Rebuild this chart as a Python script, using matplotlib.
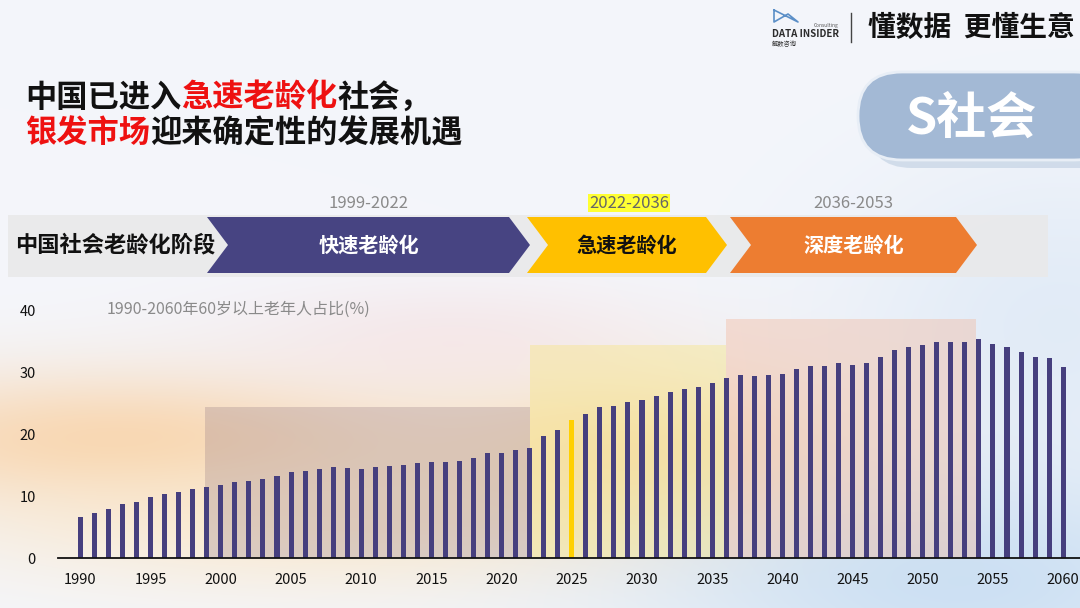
import numpy as np
import matplotlib.pyplot as plt
from matplotlib.patches import Polygon, FancyBboxPatch, Rectangle

plt.rcParams['font.family'] = ['Noto Sans CJK SC', 'DejaVu Sans']

# data: share of people aged 60+ (%)
years = list(range(1990, 2061))
share_60plus = [6.6, 7.3, 7.9, 8.7, 9.1, 9.8, 10.4, 10.7, 11.1, 11.5,
                11.8, 12.2, 12.4, 12.7, 13.2, 13.8, 14.0, 14.3, 14.6, 14.5,
                14.4, 14.6, 14.8, 15.0, 15.4, 15.5, 15.5, 15.7, 16.1, 16.9,
                16.9, 17.5, 17.7, 19.6, 20.6, 22.2, 23.3, 24.3, 24.5, 25.1,
                25.5, 26.1, 26.7, 27.2, 27.6, 28.3, 29.0, 29.5, 29.3, 29.5,
                29.7, 30.5, 31.0, 31.0, 31.5, 31.2, 31.5, 32.4, 33.5, 34.0,
                34.3, 34.8, 34.8, 34.9, 35.3, 34.5, 34.0, 33.2, 32.5, 32.2,
                30.8]
highlight_year = 2025

# ageing stages
stage_names = ['快速老龄化', '急速老龄化', '深度老龄化']
stage_periods = ['1999-2022', '2022-2036', '2036-2053']
shade_left = [1998.9, 2022.0, 2036.0]
shade_right = [2022.0, 2036.0, 2053.8]
shade_top = [24.3, 34.4, 38.5]

W, H = 1080, 608
fig = plt.figure(figsize=(W / 100, H / 100), dpi=100)

# background layer in pixel coordinates
bg = fig.add_axes([0, 0, 1, 1])
bg.set_xlim(0, W)
bg.set_ylim(H, 0)
bg.axis('off')

yy, xx = np.mgrid[0:H, 0:W]
img = np.ones((H, W, 3)) * np.array([244, 246, 251]) / 255


def blob(cx, cy, rx, ry, color, strength):
    global img
    w = strength * np.exp(-(((xx - cx) / rx) ** 2 + ((yy - cy) / ry) ** 2))
    img = img * (1 - w[..., None]) + np.array(color) / 255 * w[..., None]


blob(120, 440, 330, 70, (250, 205, 155), 0.75)
blob(330, 525, 360, 70, (252, 228, 190), 0.6)
blob(640, 450, 210, 80, (252, 212, 150), 0.55)
blob(450, 335, 220, 55, (246, 218, 218), 0.45)
blob(960, 580, 320, 120, (188, 215, 240), 0.7)
blob(1060, 320, 220, 160, (208, 225, 243), 0.5)
bg.imshow(img, extent=(0, W, H, 0), aspect='auto', zorder=0)

# header logo and slogan
bg.plot([774, 798, 788, 774, 774], [10, 22, 14, 22, 10], color='#5b8fc7', lw=1.2)
bg.text(772, 34, 'DATA INSIDER', fontsize=7, fontweight='bold', color='#2b2b2b', va='center')
bg.text(838, 25, 'Consulting', fontsize=3.5, color='#555555', va='center', ha='right')
bg.text(772, 44, '解数咨询', fontsize=4.5, color='#333333', va='center')
bg.plot([851, 851], [13, 42], color='#444444', lw=1)
bg.text(868, 28, '懂数据  更懂生意', fontsize=20, fontweight='bold', color='#111111', va='center')

# "S社会" pill
bg.add_patch(FancyBboxPatch((868, 80), 260, 88, boxstyle='round,pad=0,rounding_size=44',
                            fc='#c5d3e4', ec='none', alpha=0.7, zorder=1))
bg.add_patch(FancyBboxPatch((858, 72), 260, 88, boxstyle='round,pad=0,rounding_size=44',
                            fc='#a3b9d5', ec='#e8eef6', lw=2, zorder=2))
bg.text(972, 119, 'S社会', fontsize=36, fontweight='bold', color='white', ha='center', va='center', zorder=3)

# headline with red highlights
renderer = fig.canvas.get_renderer()


def rich_line(x, y, parts, size):
    for s, c in parts:
        t = bg.text(x, y, s, color=c, fontsize=size, fontweight='bold', va='center', ha='left')
        bb = t.get_window_extent(renderer=renderer)
        x = bg.transData.inverted().transform((bb.x1, bb.y0))[0]


rich_line(25, 98, [('中国已进入', '#111111'), ('急速老龄化', '#ee1111'), ('社会，', '#111111')], 22.5)
rich_line(25, 133, [('银发市场', '#ee1111'), ('迎来确定性的发展机遇', '#111111')], 22.5)

# stage band
top, bot = 217, 273
mid = (top + bot) / 2
bg.add_patch(Rectangle((8, 215), 1040, 62, fc='#e9e9ea', ec='none', alpha=0.9, zorder=1))
bg.text(15, mid, '中国社会老龄化阶段', fontsize=16, fontweight='bold', color='#111111', va='center', zorder=3)


def chevron(x0, x1, color, d=21):
    pts = [(x0, top), (x1 - d, top), (x1, mid), (x1 - d, bot), (x0, bot), (x0 + d, mid)]
    bg.add_patch(Polygon(pts, closed=True, fc=color, ec='none', zorder=2))


chev_x = [(207, 530), (527, 727), (730, 977)]
chev_colors = ['#474482', '#ffc000', '#ed7d31']
chev_text = ['white', '#111111', 'white']
for (x0, x1), c, tc, name, period in zip(chev_x, chev_colors, chev_text, stage_names, stage_periods):
    chevron(x0, x1, c)
    cx = (x0 + x1) / 2
    bg.text(cx, mid, name, fontsize=14.5, fontweight='bold', color=tc, ha='center', va='center', zorder=3)
    if period == '2022-2036':
        bg.text(cx + 2, 203, period, fontsize=12, color='#666666', ha='center', va='center', zorder=3,
                bbox=dict(boxstyle='square,pad=0.05', fc='#ffff33', ec='none'))
    else:
        bg.text(cx, 203, period, fontsize=12, color='#8a8a8a', ha='center', va='center', zorder=3)

# bar chart
ax = fig.add_axes([58 / W, (H - 558) / H, (W - 58) / W, 248 / H])
ax.set_facecolor('none')
ax.set_xlim(1988.4, 2061.2)
ax.set_ylim(0, 40)

shade_colors = ['#9a8088', '#f8e36a', '#f2b89e']
shade_alpha = [0.3, 0.33, 0.4]
for l, r, t, c, a in zip(shade_left, shade_right, shade_top, shade_colors, shade_alpha):
    ax.bar(l, t, width=r - l, align='edge', color=c, alpha=a, zorder=1)

bar_colors = ['#ffd000' if y == highlight_year else '#463f7e' for y in years]
ax.bar(years, share_60plus, width=0.36, color=bar_colors, zorder=2)

for s in ['top', 'right', 'left']:
    ax.spines[s].set_visible(False)
ax.spines['bottom'].set_color('#111111')
ax.spines['bottom'].set_linewidth(1.3)
ax.spines['bottom'].set_zorder(3)
ax.set_xticks(range(1990, 2061, 5))
ax.set_yticks([0, 10, 20, 30, 40])
ax.tick_params(axis='x', length=0, pad=11, labelsize=10.5, labelcolor='#111111')
ax.tick_params(axis='y', length=0, pad=16, labelsize=10.5, labelcolor='#111111')

bg.text(107, 309, '1990-2060年60岁以上老年人占比(%)', fontsize=11.5, color='#8a8a8a', va='center')

fig.savefig('out.png', dpi=100)
